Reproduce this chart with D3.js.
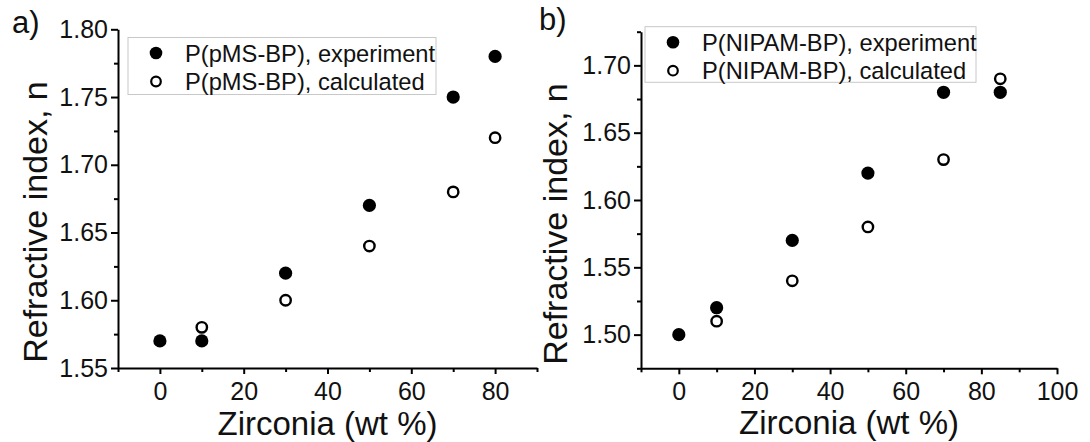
<!DOCTYPE html>
<html>
<head>
<meta charset="utf-8">
<script src="https://cdn.jsdelivr.net/npm/d3@7"></script>
<style>
  body { margin: 0; background: #fff; }
  svg { display: block; font-family: "Liberation Sans", Arial, sans-serif; }
  .axis path, .axis line { stroke: #000; stroke-width: 2; }
  .axis text { fill: #111; font-size: 25px; font-family: "Liberation Sans", Arial, sans-serif; }
</style>
</head>
<body>
<svg id="chart" width="1090" height="442"></svg>
<script>
// ----- DATA ------------------------------------------------
var zirconiaExpA = [0, 10, 30, 50, 70, 80];
var nExpA = [1.57, 1.57, 1.62, 1.67, 1.75, 1.78];
var zirconiaCalcA = [10, 30, 50, 70, 80];
var nCalcA = [1.58, 1.60, 1.64, 1.68, 1.72];

var zirconiaExpB = [0, 10, 30, 50, 70, 85];
var nExpB = [1.50, 1.52, 1.57, 1.62, 1.68, 1.68];
var zirconiaCalcB = [10, 30, 50, 70, 85];
var nCalcB = [1.51, 1.54, 1.58, 1.63, 1.69];

var xTicksA = [0, 20, 40, 60, 80];
var xMinorA = [-10, 10, 30, 50, 70, 90];
var yTicksA = [1.55, 1.60, 1.65, 1.70, 1.75, 1.80];
var yMinorA = [1.575, 1.625, 1.675, 1.725, 1.775];

var xTicksB = [0, 20, 40, 60, 80, 100];
var xMinorB = [-10, 10, 30, 50, 70, 90];
var yTicksB = [1.50, 1.55, 1.60, 1.65, 1.70];
var yMinorB = [1.475, 1.525, 1.575, 1.625, 1.675, 1.725];

var legendA = ['P(pMS-BP), experiment', 'P(pMS-BP), calculated'];
var legendB = ['P(NIPAM-BP), experiment', 'P(NIPAM-BP), calculated'];

var svg = d3.select('#chart');

//----- DRAW ONE PANEL -------------------------------------//
function drawPanel(p) {
    var x = d3.scaleLinear().domain(p.xDomain).range([p.left, p.right]);
    var y = d3.scaleLinear().domain(p.yDomain).range([p.bottom, p.top]);
    var g = svg.append('g');

    // minor ticks
    g.append('g').attr('class', 'axis')
        .attr('transform', 'translate(0,' + p.bottom + ')')
        .call(d3.axisBottom(x).tickValues(p.xMinor).tickSize(4).tickFormat(''))
        .select('.domain').remove();
    g.append('g').attr('class', 'axis')
        .attr('transform', 'translate(' + p.left + ',0)')
        .call(d3.axisLeft(y).tickValues(p.yMinor).tickSize(4).tickFormat(''))
        .select('.domain').remove();

    // major axes
    g.append('g').attr('class', 'axis')
        .attr('transform', 'translate(0,' + p.bottom + ')')
        .call(d3.axisBottom(x).tickValues(p.xTicks).tickSize(6).tickPadding(8)
            .tickSizeOuter(0).tickFormat(d3.format('d')));
    g.append('g').attr('class', 'axis')
        .attr('transform', 'translate(' + p.left + ',0)')
        .call(d3.axisLeft(y).tickValues(p.yTicks).tickSize(7).tickPadding(3)
            .tickSizeOuter(0).tickFormat(d3.format('.2f')));

    // axis titles
    g.append('text')
        .attr('x', (p.left + p.right) / 2).attr('y', p.xTitleY)
        .attr('text-anchor', 'middle').attr('font-size', 33).attr('fill', '#111')
        .text('Zirconia (wt %)');
    g.append('text')
        .attr('transform', 'translate(' + p.yTitleX + ',' + p.yTitleCy + ') rotate(-90)')
        .attr('text-anchor', 'middle').attr('font-size', 34).attr('fill', '#111')
        .text('Refractive index, n');

    // panel letter
    g.append('text')
        .attr('x', p.letterX).attr('y', p.letterY)
        .attr('font-size', 31).attr('fill', '#111')
        .text(p.letter);

    // legend
    var lg = g.append('g');
    lg.append('rect')
        .attr('x', p.legend[0]).attr('y', p.legend[1])
        .attr('width', p.legend[2]).attr('height', p.legend[3])
        .attr('fill', '#fff').attr('stroke', '#c8c8c8').attr('stroke-width', 1);
    p.labels.forEach(function (label, i) {
        var cy = p.legend[1] + 15.5 + i * 28.5;
        lg.append('circle')
            .attr('cx', p.legend[0] + 28).attr('cy', cy)
            .attr('r', i === 0 ? 6.3 : 4.8)
            .attr('fill', i === 0 ? '#000' : '#fff')
            .attr('stroke', '#000').attr('stroke-width', i === 0 ? 0 : 2.2);
        lg.append('text')
            .attr('x', p.legend[0] + 57).attr('y', cy + 8.5)
            .attr('font-size', 23.7).attr('fill', '#111')
            .text(label);
    });

    // points
    g.selectAll('.calc')
        .data(d3.zip(p.xCalc, p.nCalc)).enter()
        .append('circle')
            .attr('cx', function (d) { return x(d[0]); })
            .attr('cy', function (d) { return y(d[1]); })
            .attr('r', 5.2)
            .attr('fill', '#fff').attr('stroke', '#000').attr('stroke-width', 2.4);
    g.selectAll('.exp')
        .data(d3.zip(p.xExp, p.nExp)).enter()
        .append('circle')
            .attr('cx', function (d) { return x(d[0]); })
            .attr('cy', function (d) { return y(d[1]); })
            .attr('r', 6.6)
            .attr('fill', '#000');
}

drawPanel({
    xDomain: [-10, 90], yDomain: [1.55, 1.80],
    left: 118, right: 537, top: 29.3, bottom: 368,
    xTicks: xTicksA, xMinor: xMinorA, yTicks: yTicksA, yMinor: yMinorA,
    xExp: zirconiaExpA, nExp: nExpA, xCalc: zirconiaCalcA, nCalc: nCalcA,
    xTitleY: 435, yTitleX: 47, yTitleCy: 222,
    letter: 'a)', letterX: 12, letterY: 33,
    legend: [128, 37.5, 308, 57], labels: legendA
});

drawPanel({
    xDomain: [-10, 100], yDomain: [1.475, 1.725],
    left: 641, right: 1057, top: 31.7, bottom: 368.3,
    xTicks: xTicksB, xMinor: xMinorB, yTicks: yTicksB, yMinor: yMinorB,
    xExp: zirconiaExpB, nExp: nExpB, xCalc: zirconiaCalcB, nCalc: nCalcB,
    xTitleY: 434, yTitleX: 567, yTitleCy: 224,
    letter: 'b)', letterX: 539, letterY: 30,
    legend: [645, 26.7, 331, 55.6], labels: legendB
});
</script>
</body>
</html>
